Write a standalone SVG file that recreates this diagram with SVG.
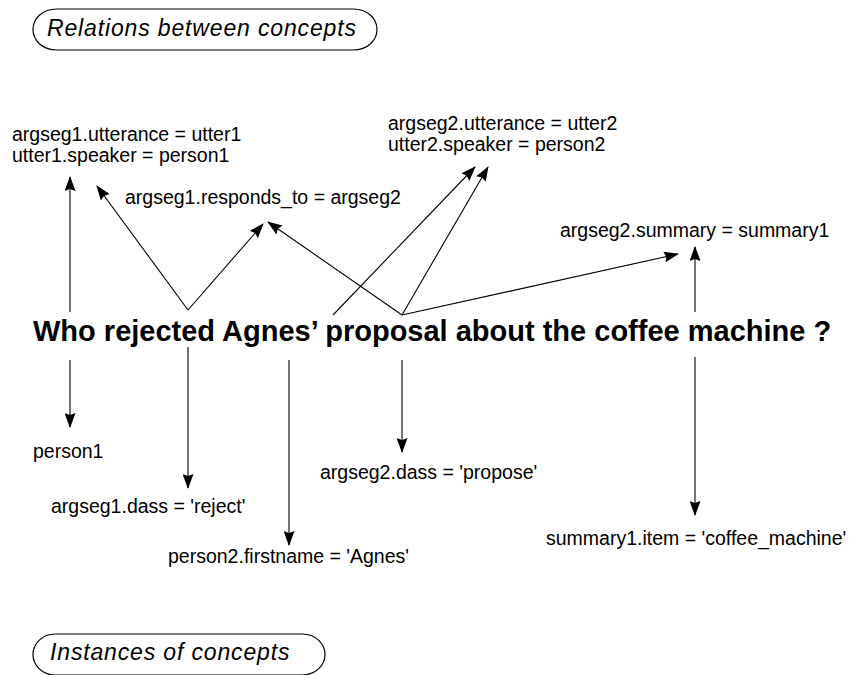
<svg xmlns="http://www.w3.org/2000/svg" width="863" height="675" viewBox="0 0 863 675">
  <style>
    text { font-family: "Liberation Sans", Arial, sans-serif; fill: #000; }
    .lbl { font-size: 19.5px; }
    .q { font-size: 29px; font-weight: bold; }
    .title { font-size: 23px; font-style: italic; letter-spacing: 0.85px; }
    .box { fill: none; stroke: #000; stroke-width: 1.2; }
    .conn line { stroke: #000; stroke-width: 1.1; marker-end: url(#ah); }
  </style>
  <defs>
    <marker id="ah" markerWidth="15" markerHeight="11" refX="14" refY="5.5" orient="auto" markerUnits="userSpaceOnUse">
      <path d="M0,0 L15,5.5 L0,11 L2,5.5 Z" fill="#000"/>
    </marker>
  </defs>
  <rect width="863" height="675" fill="#fff"/>

  <g id="title-relations">
    <path class="box" d="M57,9 H353 C368,9 377,19 377,29.5 C377,40 368,50 353,50 H57 C42,50 33,40 33,29.5 C33,19 42,9 57,9 Z"/>
    <text class="title" x="47" y="36">Relations between concepts</text>
  </g>

  <g id="title-instances">
    <path class="box" d="M55,634 H302 C316,634 325,644 325,654.5 C325,665 316,675 302,675 H55 C42,675 33,665 33,654.5 C33,644 42,634 55,634 Z"/>
    <text class="title" x="50" y="660">Instances of concepts</text>
  </g>

  <g id="question">
    <text class="q" x="33" y="341">Who rejected Agnes’ proposal about the coffee machine ?</text>
  </g>

  <g id="n-utter1">
    <text class="lbl" x="12" y="141">argseg1.utterance = utter1</text>
    <text class="lbl" x="12" y="162">utter1.speaker = person1</text>
  </g>
  <g id="n-utter2">
    <text class="lbl" x="388" y="130">argseg2.utterance = utter2</text>
    <text class="lbl" x="388" y="151">utter2.speaker = person2</text>
  </g>
  <g id="n-responds">
    <text class="lbl" x="125" y="204">argseg1.responds_to = argseg2</text>
  </g>
  <g id="n-summary">
    <text class="lbl" x="560" y="237">argseg2.summary = summary1</text>
  </g>
  <g id="n-person1">
    <text class="lbl" x="33" y="458">person1</text>
  </g>
  <g id="n-reject">
    <text class="lbl" x="51" y="513">argseg1.dass = 'reject'</text>
  </g>
  <g id="n-propose">
    <text class="lbl" x="320" y="479">argseg2.dass = 'propose'</text>
  </g>
  <g id="n-coffee">
    <text class="lbl" x="546" y="545">summary1.item = 'coffee_machine'</text>
  </g>
  <g id="n-agnes">
    <text class="lbl" x="168" y="563">person2.firstname = 'Agnes'</text>
  </g>

  <g id="connectors" class="conn">
    <line x1="70" y1="312" x2="70" y2="177"/>
    <line x1="188" y1="310" x2="97" y2="186"/>
    <line x1="188" y1="310" x2="263" y2="224"/>
    <line x1="402" y1="315" x2="268" y2="222"/>
    <line x1="333" y1="315" x2="475" y2="167"/>
    <line x1="402" y1="315" x2="488" y2="167"/>
    <line x1="402" y1="315" x2="678" y2="254"/>
    <line x1="695" y1="312" x2="695" y2="247"/>
    <line x1="70" y1="360" x2="70" y2="427"/>
    <line x1="188" y1="347" x2="188" y2="488"/>
    <line x1="289" y1="360" x2="289" y2="545"/>
    <line x1="402" y1="360" x2="402" y2="452"/>
    <line x1="695" y1="357" x2="695" y2="515"/>
  </g>
</svg>
